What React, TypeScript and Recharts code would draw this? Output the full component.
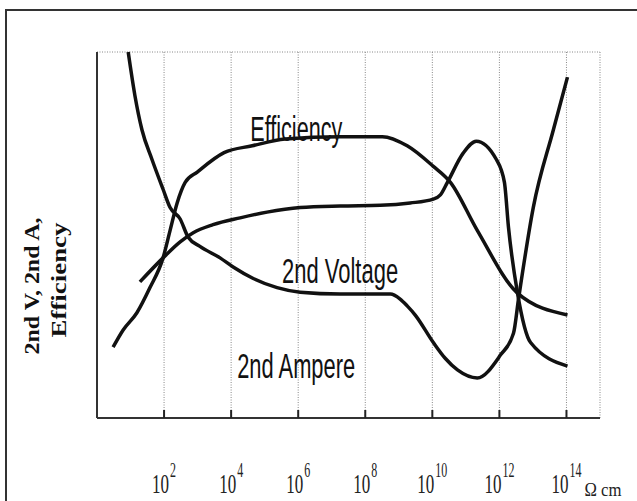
import { LineChart, Line, XAxis, YAxis, CartesianGrid, ReferenceDot } from "recharts";

// x = log10 of resistivity (Ω·cm), y = relative level
const xTickExponents = [2, 4, 6, 8, 10, 12, 14];
const unitLabel = "Ω cm";

const ampereX = [0.93, 1.13, 1.34, 1.64, 1.97, 2.18, 2.48, 2.72, 3.07, 3.67, 4.06, 4.66, 5.37, 6.06, 7.25, 8.75, 9.04, 9.25, 9.49, 10.03, 10.39, 10.75, 11.34, 12.03, 12.42, 12.57, 13.01, 13.61, 14.03];
const ampereY = [1.6, 1.41, 1.26, 1.13, 1.0, 0.92, 0.87, 0.79, 0.75, 0.7, 0.66, 0.61, 0.57, 0.55, 0.542, 0.542, 0.52, 0.49, 0.45, 0.33, 0.26, 0.21, 0.175, 0.275, 0.37, 0.52, 0.92, 1.26, 1.49];

const efficiencyX = [0.48, 0.78, 1.19, 1.58, 1.97, 2.18, 2.39, 2.63, 2.99, 3.79, 4.63, 5.61, 7.25, 8.51, 9.25, 10.03, 10.54, 11.34, 12.54, 14.03];
const efficiencyY = [0.31, 0.385, 0.46, 0.57, 0.7, 0.82, 0.94, 1.03, 1.075, 1.16, 1.19, 1.22, 1.23, 1.23, 1.19, 1.1, 1.03, 0.82, 0.546, 0.45];

const voltageX = [1.28, 1.97, 2.48, 2.87, 3.46, 4.27, 5.07, 6.06, 7.25, 8.45, 9.34, 10.03, 10.24, 10.45, 10.93, 11.31, 11.91, 12.15, 12.27, 12.54, 12.93, 14.03];
const voltageY = [0.595, 0.7, 0.77, 0.81, 0.845, 0.875, 0.9, 0.92, 0.927, 0.93, 0.94, 0.957, 0.975, 1.03, 1.16, 1.21, 1.13, 1.03, 0.835, 0.546, 0.33, 0.227];

// annotation text and where it sits (data coords of text start / baseline)
const seriesLabels = [
  { text: "Efficiency", x: 4.57, y: 1.21, len: 92 },
  { text: "2nd Voltage", x: 5.52, y: 0.59, len: 116 },
  { text: "2nd Ampere", x: 4.18, y: 0.175, len: 118 },
];

const toPoints = (xs: number[], ys: number[]) => xs.map((x, i) => ({ x, y: ys[i] }));

const ampere = toPoints(ampereX, ampereY);
const efficiency = toPoints(efficiencyX, efficiencyY);
const voltage = toPoints(voltageX, voltageY);

const ink = "#111";

const ExpTick = (props: any) => {
  const { x, y, payload } = props;
  const exp = String(payload.value);
  const supW = 6 * exp.length;
  const total = 18 + supW;
  const start = x - total / 2;
  const last = payload.value === xTickExponents[xTickExponents.length - 1];
  return (
    <g fill="#222" fontFamily="'Liberation Serif', 'Times New Roman', serif">
      <line x1={x} y1={y} x2={x} y2={y - 8} stroke="#222" strokeWidth={2} />
      <text x={start} y={y + 75} fontSize={27} textLength={17} lengthAdjust="spacingAndGlyphs">10</text>
      <text x={start + 18} y={y + 59} fontSize={20} textLength={supW} lengthAdjust="spacingAndGlyphs">{exp}</text>
      {last && (
        <text x={x + 18} y={y + 78} fontSize={18} textLength={37} lengthAdjust="spacingAndGlyphs">{unitLabel}</text>
      )}
    </g>
  );
};

const YTitle = () => (
  <g fontFamily="'Liberation Serif', 'Times New Roman', serif" fontWeight="bold" fontSize={21} fill="#111">
    <text transform="translate(39,286) rotate(-90)" textAnchor="middle" textLength={137} lengthAdjust="spacingAndGlyphs">
      2nd V, 2nd A,
    </text>
    <text transform="translate(66,280) rotate(-90)" textAnchor="middle" textLength={115} lengthAdjust="spacingAndGlyphs">
      Efficiency
    </text>
  </g>
);

const App = () => {
  return (
    <div style={{ position: "absolute", left: 0, top: 0, width: 637, height: 501, background: "#fff", overflow: "hidden" }}>
      <div
        style={{
          position: "absolute",
          left: 5,
          top: 9,
          width: 660,
          height: 520,
          borderLeft: "2px solid #333",
          borderTop: "2px solid #333",
        }}
      />
      <LineChart width={637} height={501} margin={{ top: 52, right: 37, bottom: 0, left: 0 }} style={{ position: "absolute", left: 0, top: 0 }}>
        <CartesianGrid stroke="#888" strokeDasharray="1 1.5" />
        <XAxis
          type="number"
          dataKey="x"
          domain={[0, 15]}
          ticks={xTickExponents}
          height={83}
          tickSize={0}
          tickMargin={0}
          tick={<ExpTick />}
          axisLine={{ stroke: "#333", strokeWidth: 2 }}
          tickLine={false}
          interval={0}
        />
        <YAxis
          type="number"
          domain={[0, 1.6]}
          ticks={[1]}
          width={97}
          tick={false}
          tickLine={false}
          axisLine={{ stroke: "#333", strokeWidth: 2 }}
          label={<YTitle />}
        />
        <Line data={ampere} dataKey="y" type="monotone" stroke={ink} strokeWidth={3.5} dot={false} isAnimationActive={false} />
        <Line data={efficiency} dataKey="y" type="monotone" stroke={ink} strokeWidth={3.5} dot={false} isAnimationActive={false} />
        <Line data={voltage} dataKey="y" type="monotone" stroke={ink} strokeWidth={3.5} dot={false} isAnimationActive={false} />
        {seriesLabels.map((l) => (
          <ReferenceDot
            key={l.text}
            x={l.x}
            y={l.y}
            r={0}
            shape={(p: any) => (
              <text
                x={p.cx}
                y={p.cy}
                fontFamily="'Liberation Sans Narrow', 'Liberation Sans', Arial, sans-serif"
                fontSize={35}
                textLength={l.len}
                lengthAdjust="spacingAndGlyphs"
                fill="#111"
              >
                {l.text}
              </text>
            )}
          />
        ))}
      </LineChart>
    </div>
  );
};

export default App;
